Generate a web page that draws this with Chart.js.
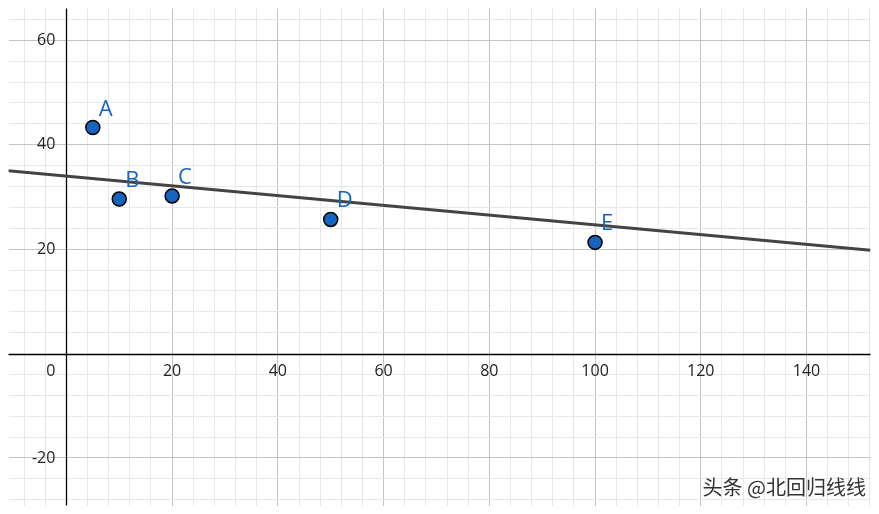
<!DOCTYPE html>
<html>
<head>
<meta charset="utf-8">
<script src="https://cdn.jsdelivr.net/npm/chart.js@4"></script>
<style>
  html, body { margin: 0; padding: 0; background: #fff; }
  #wrap { width: 879px; height: 514px; }
</style>
</head>
<body>
<div id="wrap"><canvas id="plot"></canvas></div>
<script>
const pointNames = ['A', 'B', 'C', 'D', 'E'];
const pointX = [5, 10, 20, 50, 100];
const pointY = [43.3, 29.6, 30.2, 25.7, 21.3];
const lineX = [-11, 152.1];
const lineY = [35.0, 19.8];
const xTickLabels = [0, 20, 40, 60, 80, 100, 120, 140];
const yTickLabels = [-20, 20, 40, 60];

const xMin = -10.95, xMax = 152.1, yMin = -29.1, yMax = 66.1;

function gridTicks(lo, hi) {
    const t = [];
    for (let v = Math.ceil(lo / 4) * 4; v <= hi; v += 4) t.push({ value: v });
    return t;
}
function gridColor(ctx) {
    const v = ctx.tick.value;
    if (v === 0) return 'rgba(0,0,0,0)';
    return v % 20 === 0 ? '#c4c4c4' : '#e8e8e8';
}

const overlay = {
    id: 'overlay',
    beforeDatasetsDraw(chart) {
        const c = chart.ctx, xs = chart.scales.x, ys = chart.scales.y, a = chart.chartArea;
        const x0 = Math.round(xs.getPixelForValue(0)) + 0.5, y0 = Math.round(ys.getPixelForValue(0)) + 0.5;
        c.save();
        c.strokeStyle = '#000';
        c.lineWidth = 1.3;
        c.beginPath();
        c.moveTo(a.left, y0); c.lineTo(a.right, y0);
        c.moveTo(x0, a.top); c.lineTo(x0, a.bottom);
        c.stroke();
        c.restore();
    },
    afterDraw(chart) {
        const c = chart.ctx, xs = chart.scales.x, ys = chart.scales.y;
        const x0 = xs.getPixelForValue(0), y0 = ys.getPixelForValue(0);
        c.save();
        c.font = '16px "Open Sans", "Noto Sans", sans-serif';
        c.fillStyle = '#222';
        c.textBaseline = 'middle';
        xTickLabels.forEach(v => {
            const px = xs.getPixelForValue(v);
            c.textAlign = v === 0 ? 'right' : 'center';
            c.fillText(String(v), v === 0 ? px - 11 : px, y0 + 18);
        });
        c.textAlign = 'right';
        yTickLabels.forEach(v => {
            c.fillText(String(v), x0 - 11, ys.getPixelForValue(v));
        });
        c.font = '22px "Open Sans", "Noto Sans", sans-serif';
        c.fillStyle = '#1565c0';
        c.textAlign = 'left';
        c.textBaseline = 'alphabetic';
        pointNames.forEach((n, i) => {
            c.fillText(n, xs.getPixelForValue(pointX[i]) + 6, ys.getPixelForValue(pointY[i]) - 12);
        });
        c.font = '20px "Noto Sans CJK SC", sans-serif';
        c.fillStyle = '#333';
        c.textAlign = 'right';
        c.fillText('头条 @北回归线线', 866, 495);
        c.restore();
    }
};

new Chart(document.getElementById('plot'), {
    type: 'scatter',
    data: {
        datasets: [{
            data: pointX.map((x, i) => ({ x: x, y: pointY[i] })),
            backgroundColor: '#1565c0',
            borderColor: '#000',
            borderWidth: 1.5,
            pointRadius: 7,
            pointHoverRadius: 7
        }, {
            type: 'line',
            data: lineX.map((x, i) => ({ x: x, y: lineY[i] })),
            borderColor: '#444',
            borderWidth: 3,
            pointRadius: 0
        }]
    },
    options: {
        responsive: true,
        maintainAspectRatio: false,
        animation: false,
        layout: { padding: 0 },
        plugins: { legend: { display: false }, tooltip: { enabled: false } },
        scales: {
            x: {
                type: 'linear', min: xMin, max: xMax,
                afterBuildTicks: s => { s.ticks = gridTicks(xMin, xMax); },
                afterFit: s => { s.height = 0; },
                ticks: { display: false },
                border: { display: false },
                grid: { color: gridColor, lineWidth: 1, drawTicks: false }
            },
            y: {
                type: 'linear', min: yMin, max: yMax,
                afterBuildTicks: s => { s.ticks = gridTicks(yMin, yMax); },
                afterFit: s => { s.width = 0; },
                ticks: { display: false },
                border: { display: false },
                grid: { color: gridColor, lineWidth: 1, drawTicks: false }
            }
        }
    },
    plugins: [overlay]
});
</script>
</body>
</html>
